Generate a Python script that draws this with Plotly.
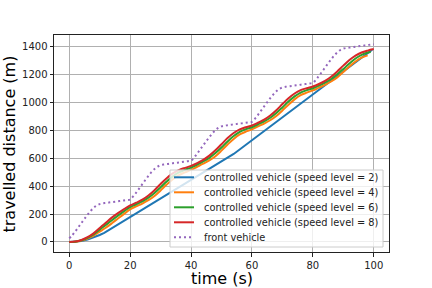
import plotly.graph_objects as go

# ---------------- data ----------------
t_blue = [0, 2, 4, 6, 8, 10, 11.5, 54, 99.5]
d_blue = [0, 1, 7, 18, 33, 50, 65, 632, 1380]

t_ctrl = [0, 2, 4, 6, 8, 10, 12, 14, 16, 18, 20, 22, 24, 26, 28, 30, 32, 34, 36, 38,
          40, 42, 44, 46, 48, 50, 52, 54, 56, 58, 60, 62, 64, 66, 68, 70, 72, 74, 76, 78,
          80, 82, 84, 86, 88, 90, 92, 94, 96, 98]
d_orange = [0, 2, 10, 25, 46, 74, 102, 134, 168, 202, 234, 256, 276, 300, 330, 370, 412, 450, 480, 500,
            518, 540, 562, 586, 616, 656, 700, 740, 772, 792, 808, 830, 850, 874, 904, 944, 986, 1024, 1054, 1072,
            1088, 1108, 1128, 1152, 1182, 1220, 1260, 1296, 1324, 1340]

t_green = t_ctrl + [99]
d_green = [0, 2, 12, 30, 55, 88, 122, 156, 189, 221, 250, 271, 292, 318, 352, 392, 434, 471, 499, 518,
           534, 555, 578, 604, 638, 678, 722, 761, 791, 810, 824, 845, 866, 892, 926, 966, 1008, 1045, 1073, 1090,
           1104, 1123, 1144, 1170, 1204, 1242, 1282, 1317, 1343, 1360, 1364]

t_red = t_ctrl + [100]
d_red = [0, 3, 14, 34, 62, 100, 138, 175, 207, 236, 262, 282, 304, 334, 372, 416, 458, 492, 516, 532,
         546, 566, 590, 620, 658, 702, 746, 782, 808, 824, 836, 856, 878, 908, 946, 990, 1032, 1066, 1090, 1104,
         1116, 1134, 1156, 1186, 1224, 1266, 1306, 1338, 1360, 1374, 1385]

t_front = list(range(0, 101))
d_front = [26, 48, 76, 106, 136, 166, 195, 222, 245, 262, 272, 277, 280, 283, 286, 289, 292, 295, 298, 301,
           305, 327, 355, 385, 415, 445, 474, 501, 524, 541, 551, 556, 559, 562, 565, 568, 571, 574, 577, 580,
           584, 606, 634, 664, 694, 724, 753, 780, 803, 820, 830, 835, 838, 841, 844, 847, 850, 853, 856, 859,
           863, 885, 913, 943, 973, 1003, 1032, 1059, 1082, 1099, 1109, 1114, 1117, 1120, 1123, 1126, 1129, 1132, 1135, 1138,
           1142, 1164, 1192, 1222, 1252, 1282, 1311, 1338, 1361, 1378, 1388, 1393, 1396, 1399, 1402, 1405, 1408, 1411, 1414, 1417,
           1419]

labels = ["controlled vehicle (speed level = 2)",
          "controlled vehicle (speed level = 4)",
          "controlled vehicle (speed level = 6)",
          "controlled vehicle (speed level = 8)",
          "front vehicle"]
colors = ["#1f77b4", "#ff7f0e", "#2ca02c", "#d62728", "#9467bd"]

x_ticks = [0, 20, 40, 60, 80, 100]
y_ticks = [0, 200, 400, 600, 800, 1000, 1200, 1400]

# ---------------- figure ----------------
W, H = 432, 288
L, R, T, B = 54, 389, 35, 252  # plot area in pixels
FONT = "DejaVu Sans"
DOT = "2px,3px"

fig = go.Figure()
series = [(t_blue, d_blue, "linear", "solid"),
          (t_ctrl, d_orange, "spline", "solid"),
          (t_green, d_green, "spline", "solid"),
          (t_red, d_red, "spline", "solid"),
          (t_front, d_front, "spline", DOT)]
for (xs, ys, shp, dash), name, c in zip(series, labels, colors):
    fig.add_trace(go.Scatter(x=xs, y=ys, mode="lines", name=name, showlegend=False,
                             line=dict(color=c, width=2, shape=shp, dash=dash)))

def px(x):
    return (x - L) / (R - L)

def py(y):
    return (B - y) / (B - T)

shapes = []
annotations = []
# legend box
shapes.append(dict(type="rect", xref="paper", yref="paper",
                   x0=px(170), x1=px(383), y0=py(247), y1=py(170),
                   fillcolor="rgba(255,255,255,0.8)", line=dict(color="#cccccc", width=1),
                   layer="above"))
row0, step = 177.3, 15
for i, (name, c) in enumerate(zip(labels, colors)):
    yy = py(row0 + i * step)
    shapes.append(dict(type="line", xref="paper", yref="paper",
                       x0=px(174), x1=px(194), y0=yy, y1=yy,
                       line=dict(color=c, width=2, dash=DOT if i == 4 else "solid"),
                       layer="above"))
    annotations.append(dict(xref="paper", yref="paper", x=px(202), y=yy, text=name,
                            showarrow=False, xanchor="left", yanchor="middle",
                            font=dict(family=FONT, size=9.8, color="#222222")))

# axis titles
annotations.append(dict(xref="paper", yref="paper", x=0.5, y=py(278), text="time (s)",
                        showarrow=False, xanchor="center", yanchor="middle",
                        font=dict(family=FONT, size=16, color="#000000")))
annotations.append(dict(xref="paper", yref="paper", x=px(8.5), y=py(144), text="travelled distance (m)",
                        showarrow=False, xanchor="center", yanchor="middle", textangle=-90,
                        font=dict(family=FONT, size=16, color="#000000")))

axis_common = dict(showline=True, linecolor="#222222", linewidth=1, mirror=True,
                   ticks="outside", ticklen=3.5, tickwidth=1, tickcolor="#222222",
                   showgrid=True, gridcolor="#b0b0b0", gridwidth=0.8, zeroline=False,
                   automargin=False,
                   tickfont=dict(family=FONT, size=10, color="#222222"))

fig.update_layout(
    width=W, height=H,
    margin=dict(l=L, r=W - R, t=T, b=H - B, pad=0),
    paper_bgcolor="white", plot_bgcolor="white",
    font=dict(family=FONT),
    xaxis=dict(range=[-5, 105], tickvals=x_ticks, **axis_common),
    yaxis=dict(range=[-72, 1486], tickvals=y_ticks, **axis_common),
    shapes=shapes, annotations=annotations,
)

fig.write_html("out.html", config={"displayModeBar": False},
               post_script="document.body.style.margin='0px';")
